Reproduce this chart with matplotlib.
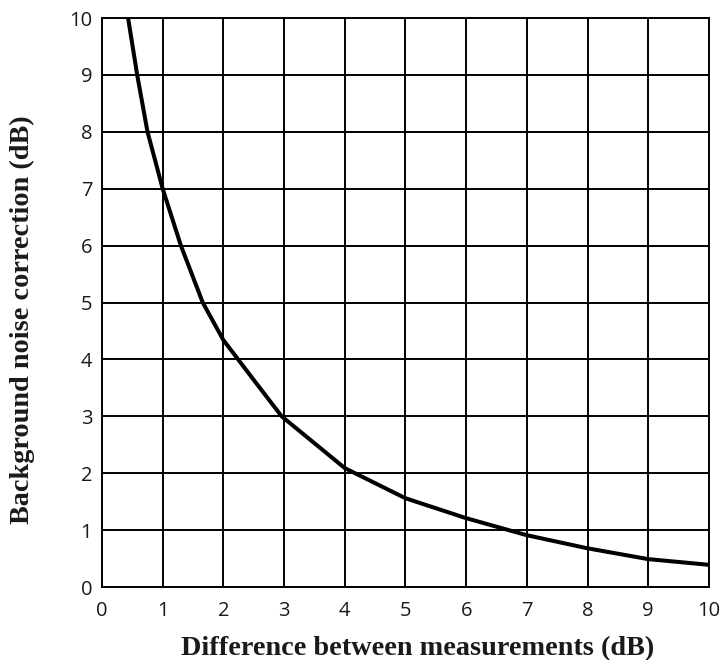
import matplotlib.pyplot as plt
import numpy as np

# values
diff_db = [0.43, 0.58, 0.75, 1.0, 1.3, 1.66, 2.0, 2.5, 2.96, 4.0, 5.0, 6.0, 7.0, 8.0, 9.0, 10.0]
correction_db = [10.0, 9.0, 8.0, 7.0, 6.0, 5.0, 4.34, 3.64, 3.0, 2.09, 1.56, 1.21, 0.91, 0.68, 0.49, 0.39]
ticks = list(range(0, 11))

W, H = 726, 660
fig = plt.figure(figsize=(W / 100, H / 100), dpi=100)
ax = fig.add_axes([0.1405, 0.1106, 0.836, 0.862])

ax.plot(diff_db, correction_db, color='black', lw=2.9, solid_joinstyle='round', zorder=3)

ax.set_xlim(0, 10)
ax.set_ylim(0, 10)
ax.set_xticks(ticks)
ax.set_yticks(ticks)
ax.grid(True, color='black', lw=1.4)
for s in ax.spines.values():
    s.set_color('black')
    s.set_linewidth(1.4)
ax.tick_params(length=0, labelsize=14.5)
ax.tick_params(axis='x', pad=10)
ax.tick_params(axis='y', pad=7)
for lab in ax.get_xticklabels() + ax.get_yticklabels():
    lab.set_family('Open Sans')
    lab.set_color('#1a1a1a')

# axis titles placed in figure pixels to match the reference
fig.text(417.5 / W, 1 - 655 / H, 'Difference between measurements (dB)',
         family='Liberation Serif', fontweight='bold', fontsize=20.3,
         ha='center', va='baseline', color='#1a1a1a')
fig.text(22 / W, 1 - 320 / H, 'Background noise correction (dB)',
         family='Liberation Serif', fontweight='bold', fontsize=20.3,
         ha='center', va='center', rotation=90, color='#1a1a1a')

fig.savefig('out.png', dpi=100)
